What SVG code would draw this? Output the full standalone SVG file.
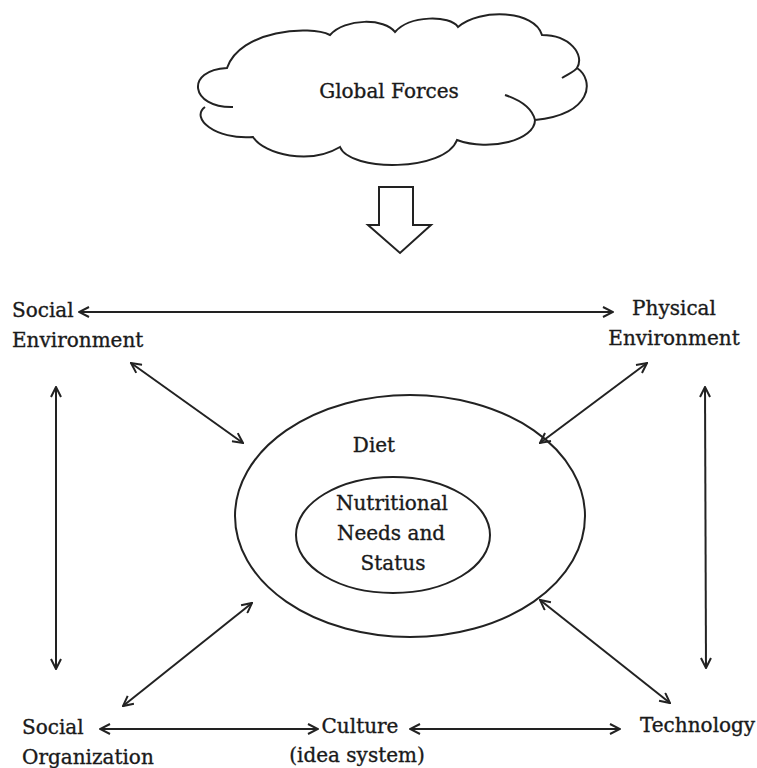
<svg xmlns="http://www.w3.org/2000/svg" width="757" height="768" viewBox="0 0 757 768">
<style>
  .t { font-family: "DejaVu Serif", "Liberation Serif", serif; font-size: 20px; fill: #1a1a1a; stroke: #1a1a1a; stroke-width: 0.35; }
  .m { text-anchor: middle; }
  .ln { stroke: #222; stroke-width: 2; fill: none; }
  .c { marker-start: url(#ah); marker-end: url(#ah); }
</style>
<defs>
  <marker id="ah" viewBox="0 0 12 12" refX="11" refY="6" markerWidth="12" markerHeight="12" markerUnits="userSpaceOnUse" orient="auto-start-reverse">
    <path d="M1,1 L11,6 L1,11" fill="none" stroke="#222" stroke-width="2"/>
  </marker>
</defs>
<rect width="757" height="768" fill="#fff"/>

<g id="global-forces">
  <path class="ln" d="M233,107 C190,108 185,70 227,68 C240,30 310,25 330,35 C345,18 385,18 395,32 C410,15 450,15 458,27 C480,8 535,10 542,35 C570,35 585,55 577,68 C595,80 592,115 535,120 C535,140 490,152 457,140 C445,172 350,172 340,147 C310,165 265,155 253,137 C215,140 190,118 205,107"/>
  <path class="ln" d="M562,78 C568,74 574,72 577,68"/>
  <path class="ln" d="M505,95 C520,100 532,108 535,120"/>
  <text class="t m" x="389" y="98">Global Forces</text>
</g>

<g id="down-arrow">
  <polygon points="379,187 413,187 413,225 431,225 400,253 368,225 379,225" fill="#fff" stroke="#222" stroke-width="2" stroke-linejoin="miter"/>
</g>

<g id="social-environment">
  <text class="t" x="12" y="317">Social</text>
  <text class="t" x="12" y="347">Environment</text>
</g>

<g id="physical-environment">
  <text class="t m" x="674" y="315">Physical</text>
  <text class="t m" x="674" y="345">Environment</text>
</g>

<g id="diet">
  <ellipse class="ln" cx="410" cy="516" rx="175" ry="121"/>
  <text class="t m" x="374" y="452">Diet</text>
</g>

<g id="nutritional-needs">
  <ellipse class="ln" cx="393" cy="535" rx="97" ry="58"/>
  <text class="t m" x="392" y="510">Nutritional</text>
  <text class="t m" x="391" y="540">Needs and</text>
  <text class="t m" x="393" y="570">Status</text>
</g>

<g id="social-organization">
  <text class="t" x="22" y="734">Social</text>
  <text class="t" x="22" y="764">Organization</text>
</g>

<g id="culture">
  <text class="t m" x="360" y="733">Culture</text>
  <text class="t m" x="357" y="762">(idea system)</text>
</g>

<g id="technology">
  <text class="t" x="640" y="732">Technology</text>
</g>

<g id="connectors">
  <line class="ln c" x1="79" y1="312" x2="613" y2="312"/>
  <line class="ln c" x1="131" y1="363" x2="243" y2="443"/>
  <line class="ln c" x1="647" y1="363" x2="540" y2="443"/>
  <line class="ln c" x1="56" y1="387" x2="56" y2="669"/>
  <line class="ln c" x1="705" y1="387" x2="706" y2="668"/>
  <line class="ln c" x1="252" y1="603" x2="123" y2="706"/>
  <line class="ln c" x1="540" y1="600" x2="670" y2="703"/>
  <line class="ln c" x1="100" y1="729" x2="318" y2="729"/>
  <line class="ln c" x1="410" y1="729" x2="620" y2="729"/>
</g>
</svg>
